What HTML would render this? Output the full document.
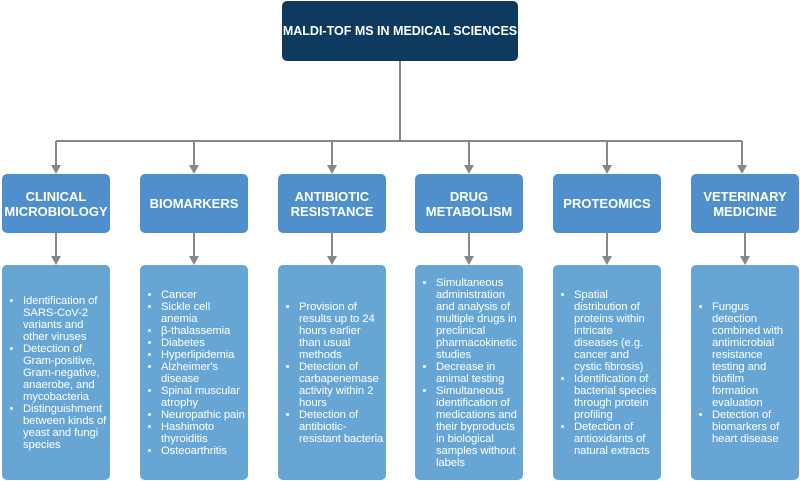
<!DOCTYPE html>
<html><head><meta charset="utf-8"><style>
body{margin:0;width:800px;height:481px;background:#fff;position:relative;font-family:"Liberation Sans",sans-serif;overflow:hidden}
.top{position:absolute;left:282px;top:1px;width:236px;height:60px;background:#0f3a5f;border-radius:5px;color:#fff;font-weight:bold;font-size:12.5px;display:flex;align-items:center;justify-content:center;white-space:nowrap}
.h{position:absolute;top:174px;width:108px;height:59px;background:#4f8fcb;border-radius:5px;color:#fff;font-weight:bold;font-size:13px;display:flex;align-items:center;justify-content:center;text-align:center;line-height:15px}
.c{position:absolute;top:265px;width:108px;height:215px;background:#67a6d4;border-radius:5px;color:#fff;font-size:11.3px;line-height:12px;display:flex;align-items:center}
.c ul{margin:0;padding:0 0 0 21px;white-space:nowrap;letter-spacing:-0.1px}
.c li{margin:0}
svg{position:absolute;left:0;top:0}
</style></head><body>
<svg width="800" height="481">
<g stroke="#888" stroke-width="2" fill="none">
<path d="M400 61V141M56 141H742"/>
<path d="M56 141V166M194 141V166M332 141V166M469 141V166M607 141V166M742 141V166"/>
<path d="M56 233V257M194 233V257M332 233V257M469 233V257M607 233V257M745 233V257"/>
</g>
<g fill="#888">
<path d="M51 165h10l-5 9z"/><path d="M189 165h10l-5 9z"/><path d="M327 165h10l-5 9z"/><path d="M464 165h10l-5 9z"/><path d="M602 165h10l-5 9z"/><path d="M737 165h10l-5 9z"/>
<path d="M51 256h10l-5 9z"/><path d="M189 256h10l-5 9z"/><path d="M327 256h10l-5 9z"/><path d="M464 256h10l-5 9z"/><path d="M602 256h10l-5 9z"/><path d="M740 256h10l-5 9z"/>
</g>
</svg>
<div class="top">MALDI-TOF MS IN MEDICAL SCIENCES</div>
<div class="h" style="left:2px">CLINICAL<br>MICROBIOLOGY</div>
<div class="h" style="left:140px">BIOMARKERS</div>
<div class="h" style="left:278px">ANTIBIOTIC<br>RESISTANCE</div>
<div class="h" style="left:415px">DRUG<br>METABOLISM</div>
<div class="h" style="left:553px">PROTEOMICS</div>
<div class="h" style="left:691px">VETERINARY<br>MEDICINE</div>
<div class="c" style="left:2px"><ul><li>Identification of<br>SARS-CoV-2<br>variants and<br>other viruses</li><li>Detection of<br>Gram-positive,<br>Gram-negative,<br>anaerobe, and<br>mycobacteria</li><li>Distinguishment<br>between kinds of<br>yeast and fungi<br>species</li></ul></div>
<div class="c" style="left:140px"><ul><li>Cancer</li><li>Sickle cell<br>anemia</li><li>β-thalassemia</li><li>Diabetes</li><li>Hyperlipidemia</li><li>Alzheimer's<br>disease</li><li>Spinal muscular<br>atrophy</li><li>Neuropathic pain</li><li>Hashimoto<br>thyroiditis</li><li>Osteoarthritis</li></ul></div>
<div class="c" style="left:278px"><ul><li>Provision of<br>results up to 24<br>hours earlier<br>than usual<br>methods</li><li>Detection of<br>carbapenemase<br>activity within 2<br>hours</li><li>Detection of<br>antibiotic-<br>resistant bacteria</li></ul></div>
<div class="c" style="left:415px"><ul><li>Simultaneous<br>administration<br>and analysis of<br>multiple drugs in<br>preclinical<br>pharmacokinetic<br>studies</li><li>Decrease in<br>animal testing</li><li>Simultaneous<br>identification of<br>medications and<br>their byproducts<br>in biological<br>samples without<br>labels</li></ul></div>
<div class="c" style="left:553px"><ul><li>Spatial<br>distribution of<br>proteins within<br>intricate<br>diseases (e.g.<br>cancer and<br>cystic fibrosis)</li><li>Identification of<br>bacterial species<br>through protein<br>profiling</li><li>Detection of<br>antioxidants of<br>natural extracts</li></ul></div>
<div class="c" style="left:691px"><ul><li>Fungus<br>detection<br>combined with<br>antimicrobial<br>resistance<br>testing and<br>biofilm<br>formation<br>evaluation</li><li>Detection of<br>biomarkers of<br>heart disease</li></ul></div>
</body></html>
